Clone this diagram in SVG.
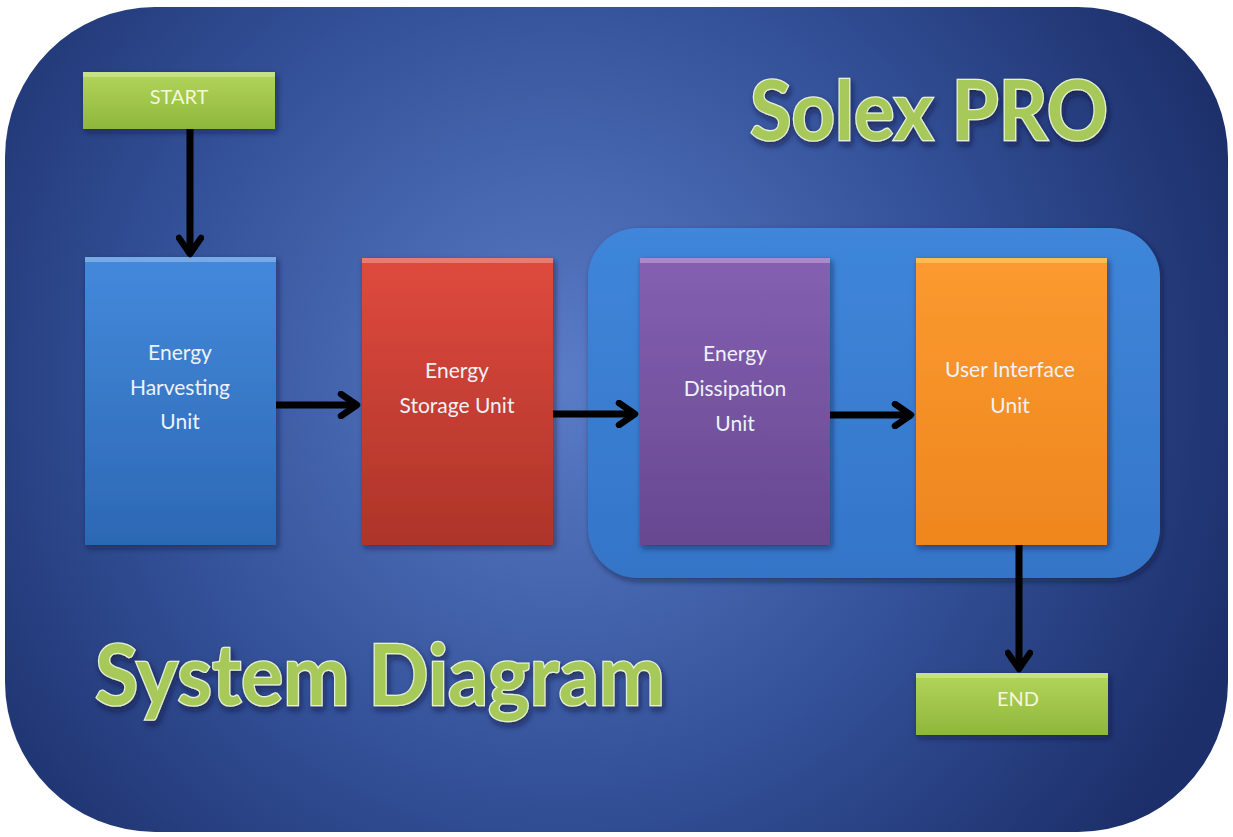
<svg xmlns="http://www.w3.org/2000/svg" width="1233" height="837" viewBox="0 0 1233 837">
  <defs>
    <radialGradient id="bg" cx="560" cy="380" r="720" gradientUnits="userSpaceOnUse">
      <stop offset="0" stop-color="#5a7cc6"/>
      <stop offset="0.55" stop-color="#34529a"/>
      <stop offset="1" stop-color="#1c2f6a"/>
    </radialGradient>
    <linearGradient id="g-green" x1="0" y1="0" x2="0" y2="1">
      <stop offset="0" stop-color="#b2d65a"/>
      <stop offset="1" stop-color="#8fb63c"/>
    </linearGradient>
    <linearGradient id="g-blue" x1="0" y1="0" x2="0" y2="1">
      <stop offset="0" stop-color="#4489db"/>
      <stop offset="1" stop-color="#2c68b4"/>
    </linearGradient>
    <linearGradient id="g-red" x1="0" y1="0" x2="0" y2="1">
      <stop offset="0" stop-color="#df4a3e"/>
      <stop offset="1" stop-color="#ad3429"/>
    </linearGradient>
    <linearGradient id="g-purple" x1="0" y1="0" x2="0" y2="1">
      <stop offset="0" stop-color="#8560b2"/>
      <stop offset="1" stop-color="#674890"/>
    </linearGradient>
    <linearGradient id="g-orange" x1="0" y1="0" x2="0" y2="1">
      <stop offset="0" stop-color="#fb9a30"/>
      <stop offset="1" stop-color="#ee861e"/>
    </linearGradient>
    <linearGradient id="g-group" x1="0" y1="0" x2="0" y2="1">
      <stop offset="0" stop-color="#3f86da"/>
      <stop offset="1" stop-color="#3475c8"/>
    </linearGradient>
    <filter id="shadow" x="-10%" y="-10%" width="130%" height="130%">
      <feDropShadow dx="2" dy="3" stdDeviation="3" flood-color="#0a1430" flood-opacity="0.55"/>
    </filter>
    <filter id="tshadow" x="-5%" y="-20%" width="110%" height="150%">
      <feDropShadow dx="2" dy="4" stdDeviation="3" flood-color="#0a1430" flood-opacity="0.6"/>
    </filter>
    <marker id="chev" viewBox="0 0 28 28" refX="22" refY="14" markerWidth="28" markerHeight="28" markerUnits="userSpaceOnUse" orient="auto">
      <path d="M6,3 L22,14 L6,25" fill="none" stroke="#000" stroke-width="6.5" stroke-linecap="round" stroke-linejoin="round"/>
    </marker>
  </defs>
  <style>
    .lbl { font-family: Lato, "Open Sans", sans-serif; font-size: 21px; fill: #eef2fa; text-anchor: middle; }
    .term { font-family: Lato, "Open Sans", sans-serif; font-size: 20px; fill: #f3f7dc; text-anchor: middle; }
    .title { font-family: Lato, "Open Sans", sans-serif; font-weight: bold; fill: #a6c95a; stroke: #e8efd8; stroke-width: 2.6; paint-order: stroke; }
    .hl { fill: #ffffff; opacity: 0.28; }
    .conn { stroke: #000; stroke-width: 7; fill: none; marker-end: url(#chev); }
  </style>

  <!-- backdrop panel -->
  <rect x="5" y="7" width="1223" height="825" rx="150" ry="150" fill="url(#bg)"/>

  <!-- titles -->
  <text class="title" x="750" y="140" font-size="82" textLength="358" lengthAdjust="spacingAndGlyphs" filter="url(#tshadow)">Solex PRO</text>
  <text class="title" x="95" y="705" font-size="84" textLength="570" lengthAdjust="spacingAndGlyphs" filter="url(#tshadow)">System Diagram</text>

  <!-- grouping panel for dissipation + interface -->
  <g id="group-output">
    <rect x="588" y="228" width="572" height="350" rx="50" ry="50" fill="url(#g-group)" filter="url(#shadow)"/>
  </g>

  <g id="start">
    <rect x="83" y="72" width="192" height="57" fill="url(#g-green)" filter="url(#shadow)"/>
    <rect x="83" y="72" width="192" height="5" class="hl"/>
    <text class="term" x="179" y="104">START</text>
  </g>

  <g id="harvesting">
    <rect x="85" y="257" width="191" height="288" fill="url(#g-blue)" filter="url(#shadow)"/>
    <rect x="85" y="257" width="191" height="5" class="hl"/>
    <text class="lbl" x="180" y="360">Energy</text>
    <text class="lbl" x="180" y="395">Harvesting</text>
    <text class="lbl" x="180" y="429">Unit</text>
  </g>

  <g id="storage">
    <rect x="362" y="258" width="191" height="287" fill="url(#g-red)" filter="url(#shadow)"/>
    <rect x="362" y="258" width="191" height="5" class="hl"/>
    <text class="lbl" x="457" y="378">Energy</text>
    <text class="lbl" x="457" y="413">Storage Unit</text>
  </g>

  <g id="dissipation">
    <rect x="640" y="258" width="190" height="287" fill="url(#g-purple)" filter="url(#shadow)"/>
    <rect x="640" y="258" width="190" height="5" class="hl"/>
    <text class="lbl" x="735" y="361">Energy</text>
    <text class="lbl" x="735" y="396">Dissipation</text>
    <text class="lbl" x="735" y="431">Unit</text>
  </g>

  <g id="interface">
    <rect x="916" y="258" width="191" height="287" fill="url(#g-orange)" filter="url(#shadow)"/>
    <rect x="916" y="258" width="191" height="5" fill="#ffd070" opacity="0.6"/>
    <text class="lbl" x="1010" y="377">User Interface</text>
    <text class="lbl" x="1010" y="413">Unit</text>
  </g>

  <g id="end">
    <rect x="916" y="673" width="192" height="62" fill="url(#g-green)" filter="url(#shadow)"/>
    <rect x="916" y="673" width="192" height="5" class="hl"/>
    <text class="term" x="1018" y="706">END</text>
  </g>

  <!-- flow connectors -->
  <g id="connectors">
    <line class="conn" x1="190" y1="129" x2="190" y2="254"/>
    <line class="conn" x1="276" y1="405" x2="357" y2="405"/>
    <line class="conn" x1="553" y1="414" x2="635" y2="414"/>
    <line class="conn" x1="830" y1="415" x2="911" y2="415"/>
    <line class="conn" x1="1019" y1="545" x2="1019" y2="669"/>
  </g>
</svg>
